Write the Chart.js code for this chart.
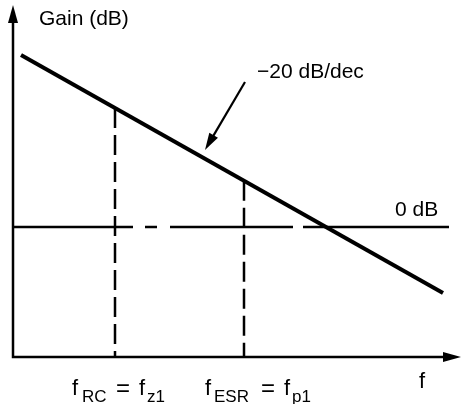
<!DOCTYPE html>
<html>
<head>
<meta charset="utf-8">
<script src="https://cdn.jsdelivr.net/npm/chart.js@4"></script>
<style>
  html, body { margin: 0; padding: 0; background: #fff; }
  #wrap { width: 462px; height: 404px; }
</style>
</head>
<body>
<div id="wrap"><canvas id="bode" width="462" height="404"></canvas></div>
<script>
// x = log10(f) in decades from the origin, y = gain in dB
const xSpan = [0, 4.48];
const ySpan = [-46.1, 78.7];

// asymptote, -20 dB/dec
const gainX = [0.08, 4.30];
const gainDb = [61.0, -23.4];

// corner frequencies (dashed drops to the f axis)
const cornerX = [1.02, 2.31];
const cornerDb = [42.2, 16.4];

// 0 dB reference line, drawn in pieces like the original sketch
const zeroStart = [0, 1.32, 1.57, 2.90];
const zeroEnd = [1.20, 1.44, 2.80, 4.36];

// pointer to the slope label
const slopeArrowFrom = [2.32, 51.4];
const slopeArrowTo = [1.92, 27.3];

const FONT = '"Liberation Sans", Arial, Helvetica, sans-serif';

// --- build datasets from the arrays ---
const zeroData = [];
zeroStart.forEach((s, i) => {
    zeroData.push({ x: s, y: 0 }, { x: zeroEnd[i], y: 0 });
    if (i < zeroStart.length - 1) zeroData.push({ x: (zeroEnd[i] + zeroStart[i + 1]) / 2, y: null });
});

const datasets = [
    {
        data: gainX.map((x, i) => ({ x: x, y: gainDb[i] })),
        borderColor: '#000', borderWidth: 4
    },
    {
        data: zeroData,
        borderColor: '#000', borderWidth: 2.5, spanGaps: false
    }
];
cornerX.forEach((x, i) => {
    datasets.push({
        data: [{ x: x, y: cornerDb[i] }, { x: x, y: ySpan[0] }],
        borderColor: '#000', borderWidth: 2.5, borderDash: [20, 7]
    });
});

function arrowHead(ctx, tipX, tipY, fromX, fromY, len, half) {
    const a = Math.atan2(tipY - fromY, tipX - fromX);
    ctx.beginPath();
    ctx.moveTo(tipX, tipY);
    ctx.lineTo(tipX - len * Math.cos(a) + half * Math.sin(a), tipY - len * Math.sin(a) - half * Math.cos(a));
    ctx.lineTo(tipX - len * Math.cos(a) - half * Math.sin(a), tipY - len * Math.sin(a) + half * Math.cos(a));
    ctx.closePath();
    ctx.fill();
}

// pieces: [text, x, baseline, size]
function drawPieces(ctx, pieces) {
    pieces.forEach(p => {
        ctx.font = p[3] + 'px ' + FONT;
        ctx.fillText(p[0], p[1], p[2]);
    });
}

const sketch = {
    id: 'sketch',
    afterDraw(chart) {
        const ctx = chart.ctx;
        const xs = chart.scales.x, ys = chart.scales.y;
        const area = chart.chartArea;
        const x0 = xs.getPixelForValue(xSpan[0]);
        const y0 = ys.getPixelForValue(ySpan[0]);
        ctx.save();
        ctx.strokeStyle = '#000';
        ctx.fillStyle = '#000';

        // axes with arrow heads
        ctx.lineWidth = 2.5;
        ctx.lineJoin = 'miter';
        ctx.beginPath();
        ctx.moveTo(x0, area.top + 12);
        ctx.lineTo(x0, y0);
        ctx.lineTo(area.right - 12, y0);
        ctx.stroke();
        arrowHead(ctx, x0, area.top, x0, y0, 18, 5);
        arrowHead(ctx, area.right, y0, x0, y0, 18, 5);

        // slope pointer
        const fx = xs.getPixelForValue(slopeArrowFrom[0]), fy = ys.getPixelForValue(slopeArrowFrom[1]);
        const tx = xs.getPixelForValue(slopeArrowTo[0]), ty = ys.getPixelForValue(slopeArrowTo[1]);
        const a = Math.atan2(ty - fy, tx - fx);
        ctx.lineWidth = 2.2;
        ctx.beginPath();
        ctx.moveTo(fx, fy);
        ctx.lineTo(tx - 12 * Math.cos(a), ty - 12 * Math.sin(a));
        ctx.stroke();
        arrowHead(ctx, tx, ty, fx, fy, 17, 5);

        // text
        ctx.textBaseline = 'alphabetic';
        ctx.textAlign = 'left';
        drawPieces(ctx, [
            ['Gain (dB)', 39, 25, 21],
            ['\u221220 dB/dec', 257, 78, 21],
            ['0 dB', 395, 216, 21],
            ['f', 419, 388, 22],
            // f_RC = f_z1
            ['f', 72, 395, 22], ['RC', 82, 402, 17], ['=', 116, 396, 24], ['f', 139, 395, 22], ['z1', 147, 402, 17],
            // f_ESR = f_p1
            ['f', 205, 395, 22], ['ESR', 214, 402, 17], ['=', 261, 396, 24], ['f', 284, 395, 22], ['p1', 292, 402, 17]
        ]);
        ctx.restore();
    }
};

new Chart(document.getElementById('bode'), {
    type: 'line',
    data: { datasets: datasets },
    options: {
        responsive: false,
        animation: false,
        devicePixelRatio: 1,
        layout: { padding: { left: 13, right: 1, top: 5, bottom: 47 } },
        elements: { point: { radius: 0 }, line: { tension: 0 } },
        plugins: { legend: { display: false }, tooltip: { enabled: false } },
        scales: {
            x: { type: 'linear', min: xSpan[0], max: xSpan[1], display: false },
            y: { type: 'linear', min: ySpan[0], max: ySpan[1], display: false }
        }
    },
    plugins: [sketch]
});
</script>
</body>
</html>
